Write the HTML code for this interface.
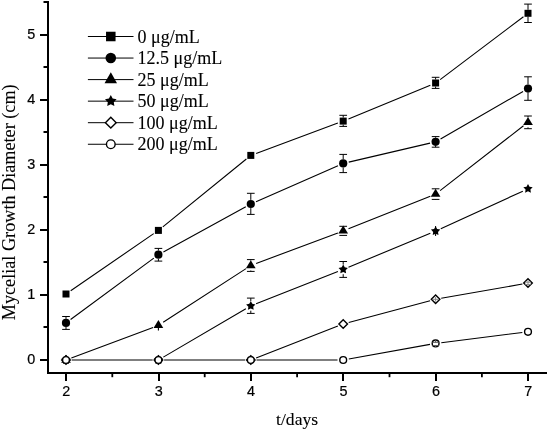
<!DOCTYPE html>
<html><head><meta charset="utf-8"><style>
html,body{margin:0;padding:0;background:#fff;}
body{width:550px;height:431px;overflow:hidden;}
svg{display:block;will-change:transform;}
.tk{font-family:"Liberation Sans",sans-serif;font-size:14.4px;fill:#000;stroke:#000;stroke-width:0.2px;}
.lg{font-family:"Liberation Serif",serif;font-size:18px;fill:#000;stroke:#000;stroke-width:0.1px;}
.ti{font-family:"Liberation Serif",serif;font-size:18.2px;fill:#000;stroke:#000;stroke-width:0.1px;}
</style></head><body>
<svg width="550" height="431" viewBox="0 0 550 431">
<g stroke="#000" stroke-width="2" fill="none">
<line x1="48.0" y1="1.0" x2="48.0" y2="374.0"/>
<line x1="47.0" y1="373.0" x2="547" y2="373.0"/>
<line x1="40" y1="360.00" x2="48.0" y2="360.00"/>
<line x1="40" y1="295.00" x2="48.0" y2="295.00"/>
<line x1="40" y1="230.00" x2="48.0" y2="230.00"/>
<line x1="40" y1="165.00" x2="48.0" y2="165.00"/>
<line x1="40" y1="100.00" x2="48.0" y2="100.00"/>
<line x1="40" y1="35.00" x2="48.0" y2="35.00"/>
<line x1="43.5" y1="327.00" x2="48.0" y2="327.00"/>
<line x1="43.5" y1="262.00" x2="48.0" y2="262.00"/>
<line x1="43.5" y1="197.00" x2="48.0" y2="197.00"/>
<line x1="43.5" y1="132.00" x2="48.0" y2="132.00"/>
<line x1="43.5" y1="67.00" x2="48.0" y2="67.00"/>
<line x1="43.5" y1="2.00" x2="48.0" y2="2.00"/>
<line x1="66.00" y1="373.0" x2="66.00" y2="381"/>
<line x1="159.00" y1="373.0" x2="159.00" y2="381"/>
<line x1="251.00" y1="373.0" x2="251.00" y2="381"/>
<line x1="343.00" y1="373.0" x2="343.00" y2="381"/>
<line x1="436.00" y1="373.0" x2="436.00" y2="381"/>
<line x1="528.00" y1="373.0" x2="528.00" y2="381"/>
<line x1="112.30" y1="373.0" x2="112.30" y2="377.2" stroke-width="1.8"/>
<line x1="204.70" y1="373.0" x2="204.70" y2="377.2" stroke-width="1.8"/>
<line x1="297.10" y1="373.0" x2="297.10" y2="377.2" stroke-width="1.8"/>
<line x1="389.50" y1="373.0" x2="389.50" y2="377.2" stroke-width="1.8"/>
<line x1="481.90" y1="373.0" x2="481.90" y2="377.2" stroke-width="1.8"/>
</g>
<text class="tk" x="35.2" y="363.50" text-anchor="end">0</text>
<text class="tk" x="35.2" y="298.50" text-anchor="end">1</text>
<text class="tk" x="35.2" y="233.50" text-anchor="end">2</text>
<text class="tk" x="35.2" y="168.50" text-anchor="end">3</text>
<text class="tk" x="35.2" y="103.50" text-anchor="end">4</text>
<text class="tk" x="35.2" y="38.50" text-anchor="end">5</text>
<text class="tk" x="66.30" y="396.3" text-anchor="middle">2</text>
<text class="tk" x="158.70" y="396.3" text-anchor="middle">3</text>
<text class="tk" x="251.10" y="396.3" text-anchor="middle">4</text>
<text class="tk" x="343.50" y="396.3" text-anchor="middle">5</text>
<text class="tk" x="435.90" y="396.3" text-anchor="middle">6</text>
<text class="tk" x="528.30" y="396.3" text-anchor="middle">7</text>
<text class="ti" x="297.1" y="424.5" text-anchor="middle" style="font-size:17.6px">t/days</text>
<text class="ti" x="0" y="0" text-anchor="middle" transform="translate(14.5,202.3) rotate(-90)">Mycelial Growth Diameter (cm)</text>
<path d="M70.70,290.77L153.70,233.63M162.83,226.81L246.37,158.99M256.14,153.42L337.86,123.08M348.47,118.93L430.33,85.17M440.15,79.57L523.45,16.73" fill="none" stroke="#000" stroke-width="1.1"/>
<g stroke="#000" stroke-width="1.0"><line x1="343.20" y1="115.30" x2="343.20" y2="117.60"/><line x1="343.20" y1="124.60" x2="343.20" y2="126.40"/><line x1="339.35" y1="115.30" x2="347.05" y2="115.30"/><line x1="339.35" y1="126.40" x2="347.05" y2="126.40"/></g>
<g stroke="#000" stroke-width="1.0"><line x1="435.60" y1="77.30" x2="435.60" y2="79.50"/><line x1="435.60" y1="86.50" x2="435.60" y2="88.40"/><line x1="431.75" y1="77.30" x2="439.45" y2="77.30"/><line x1="431.75" y1="88.40" x2="439.45" y2="88.40"/></g>
<g stroke="#000" stroke-width="1.0"><line x1="528.00" y1="4.10" x2="528.00" y2="9.80"/><line x1="528.00" y1="16.80" x2="528.00" y2="22.50"/><line x1="524.15" y1="4.10" x2="531.85" y2="4.10"/><line x1="524.15" y1="22.50" x2="531.85" y2="22.50"/></g>
<rect x="62.50" y="290.50" width="7.00" height="7.00" fill="#000"/>
<rect x="154.90" y="226.90" width="7.00" height="7.00" fill="#000"/>
<rect x="247.30" y="151.90" width="7.00" height="7.00" fill="#000"/>
<rect x="339.70" y="117.60" width="7.00" height="7.00" fill="#000"/>
<rect x="432.10" y="79.50" width="7.00" height="7.00" fill="#000"/>
<rect x="524.50" y="9.80" width="7.00" height="7.00" fill="#000"/>
<path d="M70.59,319.52L153.81,258.08M163.40,251.96L245.80,206.74M256.02,201.71L337.98,165.69M348.75,162.10L430.05,143.10M440.54,138.96L523.06,91.44" fill="none" stroke="#000" stroke-width="1.1"/>
<g stroke="#000" stroke-width="1.0"><line x1="66.00" y1="316.50" x2="66.00" y2="318.80"/><line x1="66.00" y1="327.00" x2="66.00" y2="329.40"/><line x1="62.15" y1="316.50" x2="69.85" y2="316.50"/><line x1="62.15" y1="329.40" x2="69.85" y2="329.40"/></g>
<g stroke="#000" stroke-width="1.0"><line x1="158.40" y1="248.40" x2="158.40" y2="250.60"/><line x1="158.40" y1="258.80" x2="158.40" y2="261.10"/><line x1="154.55" y1="248.40" x2="162.25" y2="248.40"/><line x1="154.55" y1="261.10" x2="162.25" y2="261.10"/></g>
<g stroke="#000" stroke-width="1.0"><line x1="250.80" y1="193.30" x2="250.80" y2="199.90"/><line x1="250.80" y1="208.10" x2="250.80" y2="214.40"/><line x1="246.95" y1="193.30" x2="254.65" y2="193.30"/><line x1="246.95" y1="214.40" x2="254.65" y2="214.40"/></g>
<g stroke="#000" stroke-width="1.0"><line x1="343.20" y1="154.40" x2="343.20" y2="159.30"/><line x1="343.20" y1="167.50" x2="343.20" y2="172.60"/><line x1="339.35" y1="154.40" x2="347.05" y2="154.40"/><line x1="339.35" y1="172.60" x2="347.05" y2="172.60"/></g>
<g stroke="#000" stroke-width="1.0"><line x1="435.60" y1="136.60" x2="435.60" y2="137.70"/><line x1="435.60" y1="145.90" x2="435.60" y2="147.20"/><line x1="431.75" y1="136.60" x2="439.45" y2="136.60"/><line x1="431.75" y1="147.20" x2="439.45" y2="147.20"/></g>
<g stroke="#000" stroke-width="1.0"><line x1="528.00" y1="76.80" x2="528.00" y2="84.50"/><line x1="528.00" y1="92.70" x2="528.00" y2="100.30"/><line x1="524.15" y1="76.80" x2="531.85" y2="76.80"/><line x1="524.15" y1="100.30" x2="531.85" y2="100.30"/></g>
<circle cx="66.00" cy="322.90" r="4.10" fill="#000"/>
<circle cx="158.40" cy="254.70" r="4.10" fill="#000"/>
<circle cx="250.80" cy="204.00" r="4.10" fill="#000"/>
<circle cx="343.20" cy="163.40" r="4.10" fill="#000"/>
<circle cx="435.60" cy="141.80" r="4.10" fill="#000"/>
<circle cx="528.00" cy="88.60" r="4.10" fill="#000"/>
<path d="M71.34,358.00L153.06,327.40M163.18,322.30L246.02,268.60M256.14,263.50L337.86,232.90M348.50,228.79L430.30,196.21M440.10,190.60L523.50,125.80" fill="none" stroke="#000" stroke-width="1.1"/>
<g stroke="#000" stroke-width="1.0"><line x1="250.80" y1="259.60" x2="250.80" y2="260.50"/><line x1="250.80" y1="270.50" x2="250.80" y2="271.40"/><line x1="246.95" y1="259.60" x2="254.65" y2="259.60"/><line x1="246.95" y1="271.40" x2="254.65" y2="271.40"/></g>
<g stroke="#000" stroke-width="1.0"><line x1="339.35" y1="226.30" x2="347.05" y2="226.30"/><line x1="339.35" y1="235.40" x2="347.05" y2="235.40"/></g>
<g stroke="#000" stroke-width="1.0"><line x1="435.60" y1="188.80" x2="435.60" y2="189.10"/><line x1="435.60" y1="199.10" x2="435.60" y2="199.40"/><line x1="431.75" y1="188.80" x2="439.45" y2="188.80"/><line x1="431.75" y1="199.40" x2="439.45" y2="199.40"/></g>
<g stroke="#000" stroke-width="1.0"><line x1="528.00" y1="116.00" x2="528.00" y2="117.30"/><line x1="528.00" y1="127.30" x2="528.00" y2="128.70"/><line x1="524.15" y1="116.00" x2="531.85" y2="116.00"/><line x1="524.15" y1="128.70" x2="531.85" y2="128.70"/></g>
<line x1="158.40" y1="325.4" x2="158.40" y2="330.6" stroke="#000" stroke-width="1.1"/>
<path d="M66.00,354.70 L70.85,362.65 L61.15,362.65 Z" fill="#000"/>
<path d="M158.40,320.10 L163.25,328.05 L153.55,328.05 Z" fill="#000"/>
<path d="M250.80,260.20 L255.65,268.15 L245.95,268.15 Z" fill="#000"/>
<path d="M343.20,225.60 L348.05,233.55 L338.35,233.55 Z" fill="#000"/>
<path d="M435.60,188.80 L440.45,196.75 L430.75,196.75 Z" fill="#000"/>
<path d="M528.00,117.00 L532.85,124.95 L523.15,124.95 Z" fill="#000"/>
<path d="M71.70,360.00L152.70,360.00M163.32,357.12L245.88,308.78M256.10,303.81L337.90,271.49M348.47,267.22L430.33,233.28M440.78,228.73L522.82,191.17" fill="none" stroke="#000" stroke-width="1.1"/>
<g stroke="#000" stroke-width="1.0"><line x1="250.80" y1="298.10" x2="250.80" y2="301.10"/><line x1="250.80" y1="310.70" x2="250.80" y2="313.40"/><line x1="246.95" y1="298.10" x2="254.65" y2="298.10"/><line x1="246.95" y1="313.40" x2="254.65" y2="313.40"/></g>
<g stroke="#000" stroke-width="1.0"><line x1="343.20" y1="261.50" x2="343.20" y2="264.60"/><line x1="343.20" y1="274.20" x2="343.20" y2="277.40"/><line x1="339.35" y1="261.50" x2="347.05" y2="261.50"/><line x1="339.35" y1="277.40" x2="347.05" y2="277.40"/></g>
<line x1="435.60" y1="226" x2="435.60" y2="236" stroke="#000" stroke-width="1"/>
<polygon points="66.00,355.10 67.50,357.94 70.66,358.49 68.42,360.79 68.88,363.96 66.00,362.55 63.12,363.96 63.58,360.79 61.34,358.49 64.50,357.94" fill="#000"/>
<polygon points="158.40,355.10 159.90,357.94 163.06,358.49 160.82,360.79 161.28,363.96 158.40,362.55 155.52,363.96 155.98,360.79 153.74,358.49 156.90,357.94" fill="#000"/>
<polygon points="250.80,301.00 252.30,303.84 255.46,304.39 253.22,306.69 253.68,309.86 250.80,308.45 247.92,309.86 248.38,306.69 246.14,304.39 249.30,303.84" fill="#000"/>
<polygon points="343.20,264.50 344.70,267.34 347.86,267.89 345.62,270.19 346.08,273.36 343.20,271.95 340.32,273.36 340.78,270.19 338.54,267.89 341.70,267.34" fill="#000"/>
<polygon points="435.60,226.20 437.10,229.04 440.26,229.59 438.02,231.89 438.48,235.06 435.60,233.65 432.72,235.06 433.18,231.89 430.94,229.59 434.10,229.04" fill="#000"/>
<polygon points="528.00,183.90 529.50,186.74 532.66,187.29 530.42,189.59 530.88,192.76 528.00,191.35 525.12,192.76 525.58,189.59 523.34,187.29 526.50,186.74" fill="#000"/>
<path d="M164.10,360.00L245.10,360.00M256.11,357.93L337.89,326.07M348.71,322.53L430.09,300.77M441.21,298.31L522.39,284.04" fill="none" stroke="#000" stroke-width="1.1"/>
<path d="M66.00,355.70 L70.30,360.00 L66.00,364.30 L61.70,360.00 Z" fill="#fff" stroke="#000" stroke-width="1.4"/>
<path d="M158.40,355.70 L162.70,360.00 L158.40,364.30 L154.10,360.00 Z" fill="#fff" stroke="#000" stroke-width="1.4"/>
<path d="M250.80,355.70 L255.10,360.00 L250.80,364.30 L246.50,360.00 Z" fill="#fff" stroke="#000" stroke-width="1.4"/>
<path d="M343.20,319.70 L347.50,324.00 L343.20,328.30 L338.90,324.00 Z" fill="#fff" stroke="#000" stroke-width="1.4"/>
<path d="M435.60,295.00 L439.90,299.30 L435.60,303.60 L431.30,299.30 Z" fill="#fff" stroke="#000" stroke-width="1.4"/>
<path d="M528.00,278.75 L532.30,283.05 L528.00,287.35 L523.70,283.05 Z" fill="#fff" stroke="#000" stroke-width="1.4"/>
<g stroke="#888" stroke-width="1"><line x1="435.60" y1="297" x2="435.60" y2="301.6"/><line x1="432.60" y1="299.3" x2="438.60" y2="299.3"/><line x1="525.20" y1="282.2" x2="530.80" y2="282.2"/><line x1="525.20" y1="284.6" x2="530.80" y2="284.6"/><line x1="528.00" y1="280.5" x2="528.00" y2="285.8"/></g>
<path d="M256.50,360.00L337.50,360.00M348.81,358.99L429.99,344.41M441.26,342.69L522.34,332.51" fill="none" stroke="#000" stroke-width="1.1"/>
<circle cx="66.00" cy="360.00" r="3.40" fill="#fff" stroke="#000" stroke-width="1.4"/>
<circle cx="158.40" cy="360.00" r="3.40" fill="#fff" stroke="#000" stroke-width="1.4"/>
<circle cx="250.80" cy="360.00" r="3.40" fill="#fff" stroke="#000" stroke-width="1.4"/>
<circle cx="343.20" cy="360.00" r="3.40" fill="#fff" stroke="#000" stroke-width="1.4"/>
<circle cx="435.60" cy="343.40" r="3.40" fill="#fff" stroke="#000" stroke-width="1.4"/>
<circle cx="528.00" cy="331.80" r="3.40" fill="#fff" stroke="#000" stroke-width="1.4"/>
<g stroke="#555" stroke-width="1"><line x1="435.60" y1="340" x2="435.60" y2="342.3"/><line x1="435.60" y1="345.6" x2="435.60" y2="347"/><line x1="432.30" y1="342.3" x2="438.90" y2="342.3"/><line x1="432.30" y1="345.6" x2="438.90" y2="345.6"/></g>
<line x1="87.9" y1="36.50" x2="133.5" y2="36.50" stroke="#000" stroke-width="1.0"/>
<rect x="106.04" y="31.74" width="9.52" height="9.52" fill="#000"/>
<text class="lg" x="137.6" y="42.60">0 μg/mL</text>
<line x1="87.9" y1="58.05" x2="133.5" y2="58.05" stroke="#000" stroke-width="1.0"/>
<circle cx="110.80" cy="58.05" r="5.29" fill="#000"/>
<text class="lg" x="137.6" y="64.15">12.5 μg/mL</text>
<line x1="87.9" y1="79.60" x2="133.5" y2="79.60" stroke="#000" stroke-width="1.0"/>
<path d="M110.80,72.34 L117.06,83.23 L104.54,83.23 Z" fill="#000"/>
<text class="lg" x="137.6" y="85.70">25 μg/mL</text>
<line x1="87.9" y1="101.15" x2="133.5" y2="101.15" stroke="#000" stroke-width="1.0"/>
<polygon points="110.80,95.07 112.66,98.59 116.58,99.27 113.80,102.13 114.37,106.07 110.80,104.31 107.23,106.07 107.80,102.13 105.02,99.27 108.94,98.59" fill="#000"/>
<text class="lg" x="137.6" y="107.25">50 μg/mL</text>
<line x1="87.9" y1="122.70" x2="133.5" y2="122.70" stroke="#000" stroke-width="1.0"/>
<path d="M110.80,117.33 L116.17,122.70 L110.80,128.07 L105.42,122.70 Z" fill="#fff" stroke="#000" stroke-width="1.4"/>
<text class="lg" x="137.6" y="128.80">100 μg/mL</text>
<line x1="87.9" y1="144.25" x2="133.5" y2="144.25" stroke="#000" stroke-width="1.0"/>
<circle cx="110.80" cy="144.25" r="4.35" fill="#fff" stroke="#000" stroke-width="1.4"/>
<text class="lg" x="137.6" y="150.35">200 μg/mL</text>
</svg></body></html>
